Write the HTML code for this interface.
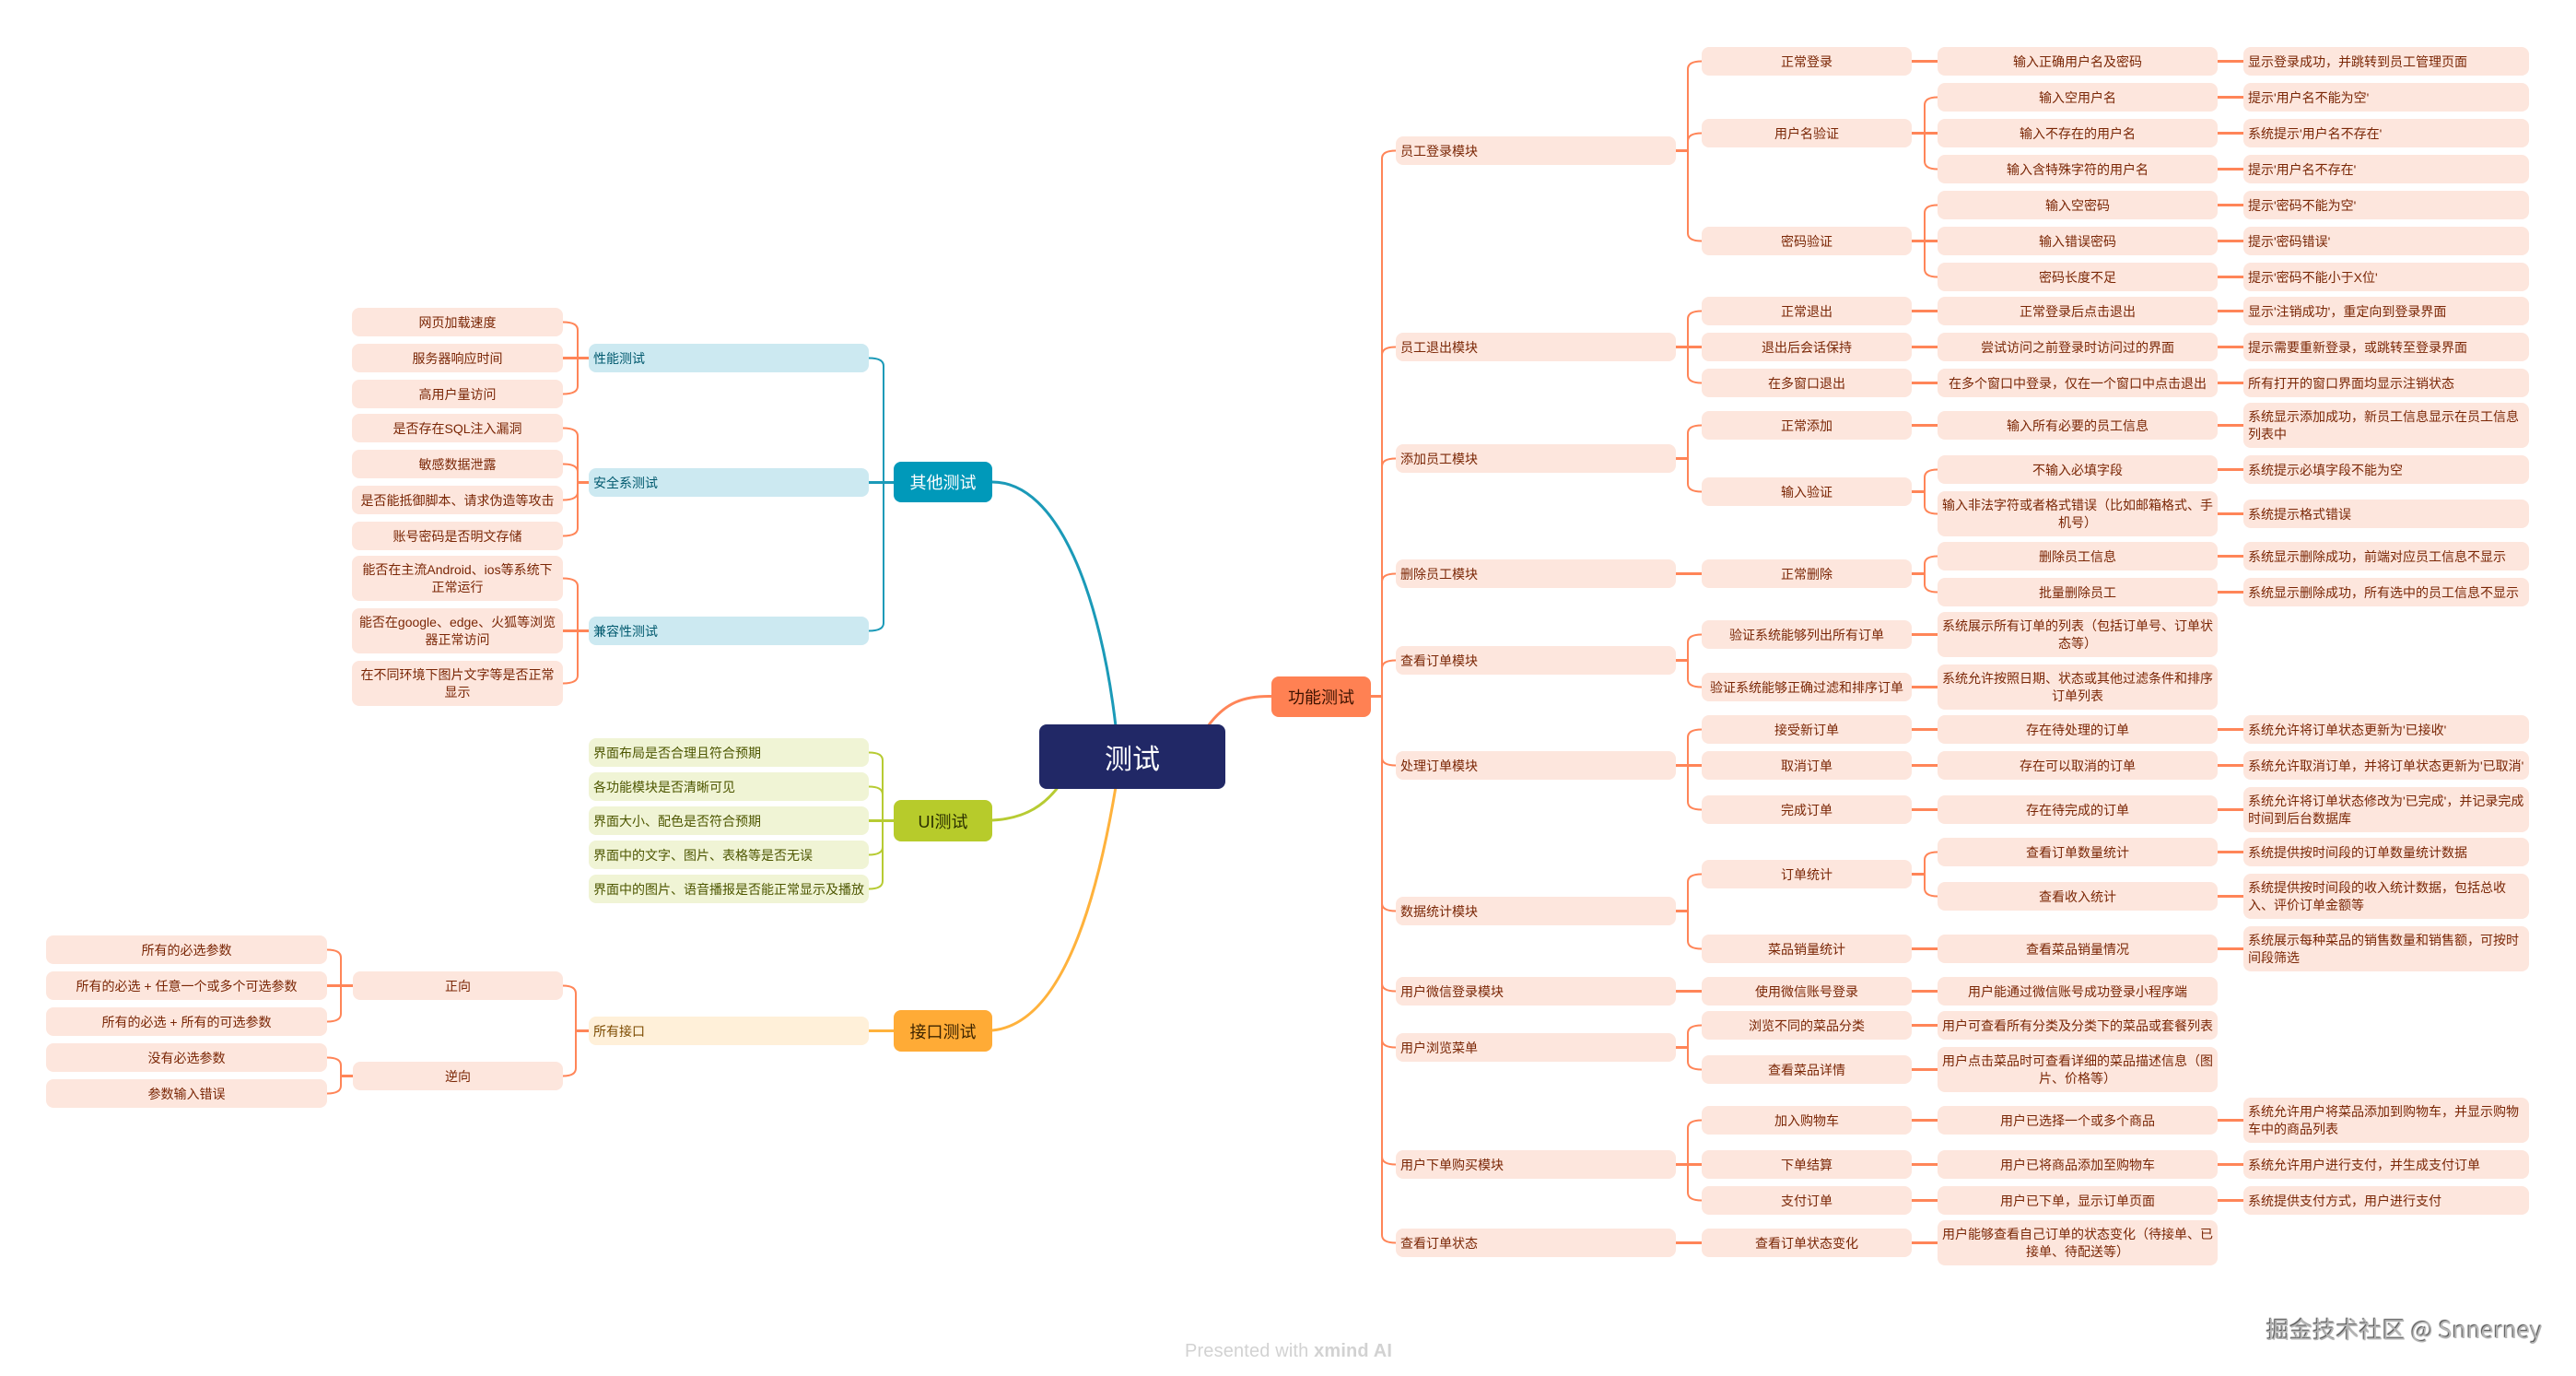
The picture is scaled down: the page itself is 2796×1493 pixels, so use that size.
<!DOCTYPE html>
<html lang="zh"><head><meta charset="utf-8"><title>测试</title>
<style>
html,body{margin:0;padding:0;background:#fff}
#p{position:relative;width:2796px;height:1493px;overflow:hidden;background:#fff;font-family:"Liberation Sans","Noto Sans CJK SC",sans-serif}
svg{position:absolute;left:0;top:0}
svg path{fill:none}
.n{position:absolute;box-sizing:border-box;height:31px;padding:1px 5px 0;display:flex;align-items:center;justify-content:center;text-align:center;font-size:14px;line-height:19px;color:#7a2605;background:#fde6dd;border-radius:8px;white-space:nowrap}
.h{height:49px}
.l{justify-content:flex-start;text-align:left}
.c1{left:1515px;width:304px}
.c2{left:1847px;width:228px}
.c3{left:2103px;width:304px}
.c4{left:2435px;width:310px}
.a{left:382px;width:229px}
.b{left:639px;width:304px}
.bl{background:#cce9f1;color:#00596e}
.gr{background:#f0f4d5;color:#4d5600}
.or{background:#fff0d9;color:#7c4a00}
.d{left:50px;width:305px}
.e{left:383px;width:228px}
.t{position:absolute;box-sizing:border-box;display:flex;align-items:center;justify-content:center;font-size:18px;border-radius:8px}
</style></head><body><div id="p">
<svg width="2796" height="1493" viewBox="0 0 2796 1493">
<g stroke="#ff8558" stroke-width="2">
<path d="M1515 163.5Q1500 163.5 1500 172V1340Q1500 1348.5 1515 1348.5"/>
<path d="M1515 376.5Q1500 376.5 1500 385M1515 497.5Q1500 497.5 1500 506M1515 622.5Q1500 622.5 1500 631M1515 716.5Q1500 716.5 1500 725M1515 830.5Q1500 830.5 1500 822M1515 988.5Q1500 988.5 1500 980M1515 1075.5Q1500 1075.5 1500 1067M1515 1136.5Q1500 1136.5 1500 1128M1515 1263.5Q1500 1263.5 1500 1255"/>
<path d="M1847 66.5Q1832 66.5 1832 75V253Q1832 261.5 1847 261.5M1847 144.5Q1832 144.5 1832 153"/>
<path d="M1847 337.5Q1832 337.5 1832 346V407Q1832 415.5 1847 415.5"/>
<path d="M1847 461.5Q1832 461.5 1832 470V525Q1832 533.5 1847 533.5"/>
<path d="M1847 688.5Q1832 688.5 1832 697V737Q1832 745.5 1847 745.5"/>
<path d="M1847 791.5Q1832 791.5 1832 800V870Q1832 878.5 1847 878.5"/>
<path d="M1847 948.5Q1832 948.5 1832 957V1021Q1832 1029.5 1847 1029.5"/>
<path d="M1847 1112.5Q1832 1112.5 1832 1121V1152Q1832 1160.5 1847 1160.5"/>
<path d="M1847 1215.5Q1832 1215.5 1832 1224V1294Q1832 1302.5 1847 1302.5"/>
<path d="M2103 105.5Q2089 105.5 2089 114V175Q2089 183.5 2103 183.5"/>
<path d="M2103 222.5Q2089 222.5 2089 231V292Q2089 300.5 2103 300.5"/>
<path d="M2103 509.5Q2089 509.5 2089 518V549Q2089 557.5 2103 557.5"/>
<path d="M2103 603.5Q2089 603.5 2089 612V634Q2089 642.5 2103 642.5"/>
<path d="M2103 924.5Q2089 924.5 2089 933V964Q2089 972.5 2103 972.5"/>
<path d="M611 349.5Q627 349.5 627 358V419Q627 427.5 611 427.5"/>
<path d="M611 464.5Q627 464.5 627 473V573Q627 581.5 611 581.5M611 503.5Q627 503.5 627 512M611 542.5Q627 542.5 627 534"/>
<path d="M611 627.5Q627 627.5 627 636V733Q627 741.5 611 741.5"/>
<path d="M611 1069.5Q625 1069.5 625 1078V1159Q625 1167.5 611 1167.5"/>
<path d="M355 1030.5Q370 1030.5 370 1039V1100Q370 1108.5 355 1108.5"/>
<path d="M355 1147.5Q370 1147.5 370 1156V1178Q370 1186.5 355 1186.5"/>
</g>
<g stroke="#ff8558" stroke-width="3">
<path d="M1488 755.5H1500"/>
<path d="M1819 163.5H1832M1819 376.5H1847M1819 497.5H1832M1819 622.5H1847M1819 716.5H1832M1819 830.5H1847M1819 988.5H1832M1819 1075.5H1847M1819 1136.5H1832M1819 1263.5H1847M1819 1348.5H1847"/>
<path d="M2075 66.5H2103M2075 144.5H2103M2075 261.5H2103M2075 337.5H2103M2075 376.5H2103M2075 415.5H2103M2075 461.5H2103M2075 533.5H2089M2075 622.5H2089M2075 688.5H2103M2075 745.5H2103M2075 791.5H2103M2075 830.5H2103M2075 878.5H2103M2075 948.5H2089M2075 1029.5H2103M2075 1075.5H2103M2075 1112.5H2103M2075 1160.5H2103M2075 1215.5H2103M2075 1263.5H2103M2075 1302.5H2103M2075 1348.5H2103"/>
<path d="M2407 66.5H2435M2407 105.5H2435M2407 144.5H2435M2407 183.5H2435M2407 222.5H2435M2407 261.5H2435M2407 300.5H2435M2407 337.5H2435M2407 376.5H2435M2407 415.5H2435M2407 461.5H2435M2407 509.5H2435M2407 557.5H2435M2407 603.5H2435M2407 642.5H2435M2407 791.5H2435M2407 830.5H2435M2407 878.5H2435M2407 924.5H2435M2407 972.5H2435M2407 1029.5H2435M2407 1215.5H2435M2407 1263.5H2435M2407 1302.5H2435"/>
<path d="M611 388.5H639M627 523.5H639M611 684.5H639M625 1118.5H639M355 1069.5H383M370 1167.5H383"/>
<path d="M1380 755.5C1350 755 1330 762 1311 788"/>
</g>
<g stroke="#1b9ab8" stroke-width="2">
<path d="M943 388.5Q959 388.5 959 397V676Q959 684.5 943 684.5"/>
</g>
<g stroke="#1b9ab8" stroke-width="3">
<path d="M943 523.5H970M1077 523C1150 523 1195 650 1211 788"/>
</g>
<g stroke="#b7cb33" stroke-width="2">
<path d="M943 816.5Q958 816.5 958 825V956Q958 964.5 943 964.5M943 853.5Q958 853.5 958 862M943 927.5Q958 927.5 958 919"/>
</g>
<g stroke="#b7cb33" stroke-width="3">
<path d="M943 890.5H970M1077 890C1115 888 1135 872 1150 852"/>
</g>
<g stroke="#ffb23c" stroke-width="3">
<path d="M943 1118.5H970M1077 1118C1160 1110 1195 950 1211 854"/>
</g>
</svg>

<div class="t" style="left:1128px;top:786px;width:202px;height:70px;background:#212866;color:#fff;font-size:30px">测试</div>
<div class="t" style="left:1380px;top:734px;width:108px;height:44px;background:#ff8153;color:#3d1200">功能测试</div>
<div class="t" style="left:970px;top:501px;width:107px;height:44px;background:#0099ba;color:#fff">其他测试</div>
<div class="t" style="left:970px;top:868px;width:107px;height:45px;background:#b7cb2b;color:#2a2f00">UI测试</div>
<div class="t" style="left:970px;top:1096px;width:107px;height:45px;background:#ffab36;color:#3d2400">接口测试</div>

<div class="n c1 l" style="top:148px">员工登录模块</div>
<div class="n c1 l" style="top:361px">员工退出模块</div>
<div class="n c1 l" style="top:482px">添加员工模块</div>
<div class="n c1 l" style="top:607px">删除员工模块</div>
<div class="n c1 l" style="top:701px">查看订单模块</div>
<div class="n c1 l" style="top:815px">处理订单模块</div>
<div class="n c1 l" style="top:973px">数据统计模块</div>
<div class="n c1 l" style="top:1060px">用户微信登录模块</div>
<div class="n c1 l" style="top:1121px">用户浏览菜单</div>
<div class="n c1 l" style="top:1248px">用户下单购买模块</div>
<div class="n c1 l" style="top:1333px">查看订单状态</div>

<div class="n c2" style="top:51px">正常登录</div>
<div class="n c2" style="top:129px">用户名验证</div>
<div class="n c2" style="top:246px">密码验证</div>
<div class="n c2" style="top:322px">正常退出</div>
<div class="n c2" style="top:361px">退出后会话保持</div>
<div class="n c2" style="top:400px">在多窗口退出</div>
<div class="n c2" style="top:446px">正常添加</div>
<div class="n c2" style="top:518px">输入验证</div>
<div class="n c2" style="top:607px">正常删除</div>
<div class="n c2" style="top:673px">验证系统能够列出所有订单</div>
<div class="n c2" style="top:730px">验证系统能够正确过滤和排序订单</div>
<div class="n c2" style="top:776px">接受新订单</div>
<div class="n c2" style="top:815px">取消订单</div>
<div class="n c2" style="top:863px">完成订单</div>
<div class="n c2" style="top:933px">订单统计</div>
<div class="n c2" style="top:1014px">菜品销量统计</div>
<div class="n c2" style="top:1060px">使用微信账号登录</div>
<div class="n c2" style="top:1097px">浏览不同的菜品分类</div>
<div class="n c2" style="top:1145px">查看菜品详情</div>
<div class="n c2" style="top:1200px">加入购物车</div>
<div class="n c2" style="top:1248px">下单结算</div>
<div class="n c2" style="top:1287px">支付订单</div>
<div class="n c2" style="top:1333px">查看订单状态变化</div>

<div class="n c3" style="top:51px">输入正确用户名及密码</div>
<div class="n c3" style="top:90px">输入空用户名</div>
<div class="n c3" style="top:129px">输入不存在的用户名</div>
<div class="n c3" style="top:168px">输入含特殊字符的用户名</div>
<div class="n c3" style="top:207px">输入空密码</div>
<div class="n c3" style="top:246px">输入错误密码</div>
<div class="n c3" style="top:285px">密码长度不足</div>
<div class="n c3" style="top:322px">正常登录后点击退出</div>
<div class="n c3" style="top:361px">尝试访问之前登录时访问过的界面</div>
<div class="n c3" style="top:400px">在多个窗口中登录，仅在一个窗口中点击退出</div>
<div class="n c3" style="top:446px">输入所有必要的员工信息</div>
<div class="n c3" style="top:494px">不输入必填字段</div>
<div class="n c3 h" style="top:533px">输入非法字符或者格式错误（比如邮箱格式、手<br>机号）</div>
<div class="n c3" style="top:588px">删除员工信息</div>
<div class="n c3" style="top:627px">批量删除员工</div>
<div class="n c3 h" style="top:664px">系统展示所有订单的列表（包括订单号、订单状<br>态等）</div>
<div class="n c3 h" style="top:721px">系统允许按照日期、状态或其他过滤条件和排序<br>订单列表</div>
<div class="n c3" style="top:776px">存在待处理的订单</div>
<div class="n c3" style="top:815px">存在可以取消的订单</div>
<div class="n c3" style="top:863px">存在待完成的订单</div>
<div class="n c3" style="top:909px">查看订单数量统计</div>
<div class="n c3" style="top:957px">查看收入统计</div>
<div class="n c3" style="top:1014px">查看菜品销量情况</div>
<div class="n c3" style="top:1060px">用户能通过微信账号成功登录小程序端</div>
<div class="n c3" style="top:1097px">用户可查看所有分类及分类下的菜品或套餐列表</div>
<div class="n c3 h" style="top:1136px">用户点击菜品时可查看详细的菜品描述信息（图<br>片、价格等）</div>
<div class="n c3" style="top:1200px">用户已选择一个或多个商品</div>
<div class="n c3" style="top:1248px">用户已将商品添加至购物车</div>
<div class="n c3" style="top:1287px">用户已下单，显示订单页面</div>
<div class="n c3 h" style="top:1324px">用户能够查看自己订单的状态变化（待接单、已<br>接单、待配送等）</div>

<div class="n c4 l" style="top:51px">显示登录成功，并跳转到员工管理页面</div>
<div class="n c4 l" style="top:90px">提示'用户名不能为空'</div>
<div class="n c4 l" style="top:129px">系统提示'用户名不存在'</div>
<div class="n c4 l" style="top:168px">提示'用户名不存在'</div>
<div class="n c4 l" style="top:207px">提示'密码不能为空'</div>
<div class="n c4 l" style="top:246px">提示'密码错误'</div>
<div class="n c4 l" style="top:285px">提示'密码不能小于X位'</div>
<div class="n c4 l" style="top:322px">显示'注销成功'，重定向到登录界面</div>
<div class="n c4 l" style="top:361px">提示需要重新登录，或跳转至登录界面</div>
<div class="n c4 l" style="top:400px">所有打开的窗口界面均显示注销状态</div>
<div class="n c4 l h" style="top:437px">系统显示添加成功，新员工信息显示在员工信息<br>列表中</div>
<div class="n c4 l" style="top:494px">系统提示必填字段不能为空</div>
<div class="n c4 l" style="top:542px">系统提示格式错误</div>
<div class="n c4 l" style="top:588px">系统显示删除成功，前端对应员工信息不显示</div>
<div class="n c4 l" style="top:627px">系统显示删除成功，所有选中的员工信息不显示</div>
<div class="n c4 l" style="top:776px">系统允许将订单状态更新为'已接收'</div>
<div class="n c4 l" style="top:815px">系统允许取消订单，并将订单状态更新为'已取消'</div>
<div class="n c4 l h" style="top:854px">系统允许将订单状态修改为'已完成'，并记录完成<br>时间到后台数据库</div>
<div class="n c4 l" style="top:909px">系统提供按时间段的订单数量统计数据</div>
<div class="n c4 l h" style="top:948px">系统提供按时间段的收入统计数据，包括总收<br>入、评价订单金额等</div>
<div class="n c4 l h" style="top:1005px">系统展示每种菜品的销售数量和销售额，可按时<br>间段筛选</div>
<div class="n c4 l h" style="top:1191px">系统允许用户将菜品添加到购物车，并显示购物<br>车中的商品列表</div>
<div class="n c4 l" style="top:1248px">系统允许用户进行支付，并生成支付订单</div>
<div class="n c4 l" style="top:1287px">系统提供支付方式，用户进行支付</div>

<div class="n b l bl" style="top:373px">性能测试</div>
<div class="n b l bl" style="top:508px">安全系测试</div>
<div class="n b l bl" style="top:669px">兼容性测试</div>
<div class="n a" style="top:334px">网页加载速度</div>
<div class="n a" style="top:373px">服务器响应时间</div>
<div class="n a" style="top:412px">高用户量访问</div>
<div class="n a" style="top:449px">是否存在SQL注入漏洞</div>
<div class="n a" style="top:488px">敏感数据泄露</div>
<div class="n a" style="top:527px">是否能抵御脚本、请求伪造等攻击</div>
<div class="n a" style="top:566px">账号密码是否明文存储</div>
<div class="n a h" style="top:603px">能否在主流Android、ios等系统下<br>正常运行</div>
<div class="n a h" style="top:660px">能否在google、edge、火狐等浏览<br>器正常访问</div>
<div class="n a h" style="top:717px">在不同环境下图片文字等是否正常<br>显示</div>

<div class="n b l gr" style="top:801px">界面布局是否合理且符合预期</div>
<div class="n b l gr" style="top:838px">各功能模块是否清晰可见</div>
<div class="n b l gr" style="top:875px">界面大小、配色是否符合预期</div>
<div class="n b l gr" style="top:912px">界面中的文字、图片、表格等是否无误</div>
<div class="n b l gr" style="top:949px">界面中的图片、语音播报是否能正常显示及播放</div>

<div class="n b l or" style="top:1103px">所有接口</div>
<div class="n e" style="top:1054px">正向</div>
<div class="n e" style="top:1152px">逆向</div>
<div class="n d" style="top:1015px">所有的必选参数</div>
<div class="n d" style="top:1054px">所有的必选 + 任意一个或多个可选参数</div>
<div class="n d" style="top:1093px">所有的必选 + 所有的可选参数</div>
<div class="n d" style="top:1132px">没有必选参数</div>
<div class="n d" style="top:1171px">参数输入错误</div>

<div style="position:absolute;left:1286px;top:1454px;font-size:20px;line-height:24px;letter-spacing:.15px;color:#d2d2d2;white-space:nowrap">Presented with <b>xmind AI</b></div>
<div style="position:absolute;left:2460px;top:1425px;font-family:'Noto Sans CJK SC','Liberation Sans',sans-serif;font-size:25px;line-height:34px;letter-spacing:.2px;color:#b5b5b5;text-shadow:-1px -1px 1px #444;white-space:nowrap">掘金技术社区 @ Snnerney</div>
</div></body></html>
